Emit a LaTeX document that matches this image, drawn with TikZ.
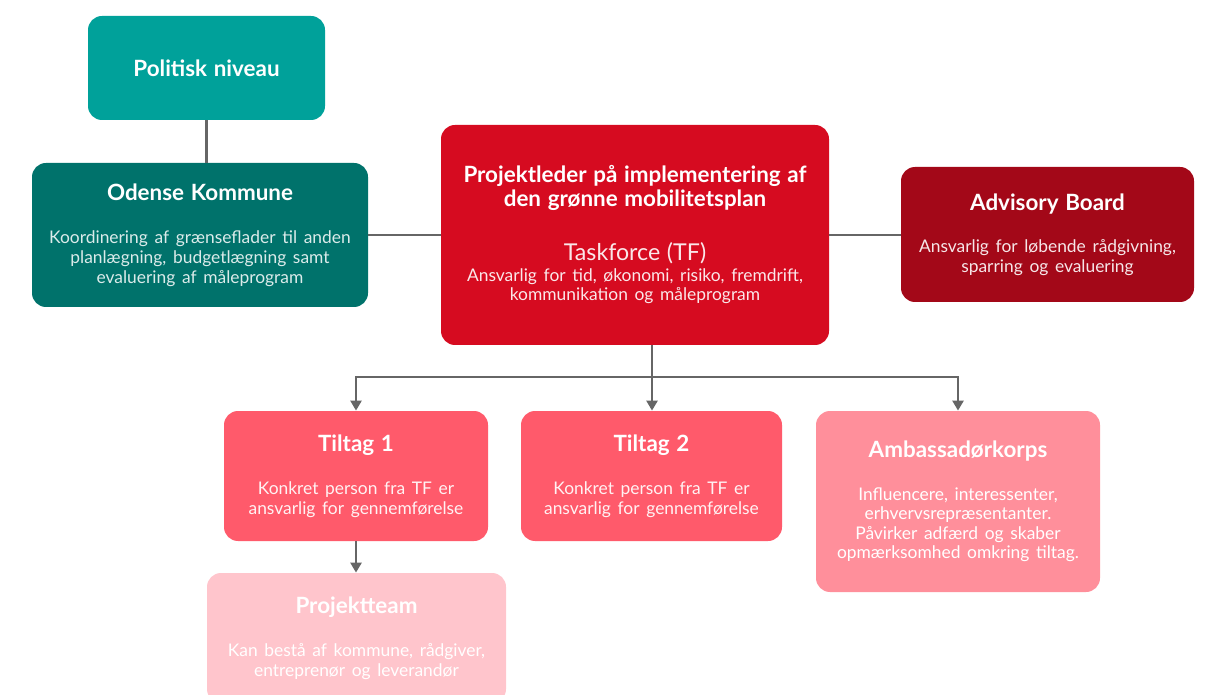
\documentclass[tikz,border=0pt]{standalone}
\usepackage{fontspec}
\setmainfont{Lato}
\usetikzlibrary{arrows.meta}
\definecolor{tealA}{HTML}{00A19A}
\definecolor{tealB}{HTML}{00726B}
\definecolor{redA}{HTML}{D60B20}
\definecolor{redB}{HTML}{A30818}
\definecolor{coral}{HTML}{FF5A6B}
\definecolor{pinkA}{HTML}{FF8F9B}
\definecolor{pinkB}{HTML}{FFC5CC}
\definecolor{connC}{HTML}{666666}
\newcommand{\boxtitle}[1]{{\fontsize{11.2}{11.6}\selectfont\bfseries #1\par}}
\newcommand{\boxbody}[2][white]{{\color{#1}\fontsize{8.7}{9.8}\selectfont #2\par}}

\begin{document}
\begin{tikzpicture}[x=0.5pt,y=-0.5pt,
  box/.style={rounded corners=7pt,inner sep=0pt,align=center,text=white},
  conn/.style={draw=connC,line width=1.4pt},
  arr/.style={conn,-{Triangle[width=5.5pt,length=5pt]}}]
\useasboundingbox (0,0) rectangle (1205,695);
\clip (0,0) rectangle (1205,695);
\node[box,fill=tealA,minimum width=118.5pt,minimum height=52pt,text width=116pt] (pol) at (206.5,68) {\boxtitle{Politisk niveau}};
\node[box,fill=tealB,minimum width=168pt,minimum height=72pt,text width=166pt] (ode) at (200,235) {\boxtitle{Odense Kommune}\vspace{12pt}\boxbody[white!86!tealB]{Koordinering af grænseflader til anden\\planlægning, budgetlægning samt\\evaluering af måleprogram}};
\node[box,fill=redA,minimum width=194pt,minimum height=110pt,text width=192pt] (cen) at (635,235) {\boxtitle{Projektleder på implementering af\\den grønne mobilitetsplan}\vspace{14pt}{\color{white!90!redA}\fontsize{11.6}{13}\selectfont Taskforce (TF)\par}\vspace{0.8pt}\boxbody[white!90!redA]{Ansvarlig for tid, økonomi, risiko, fremdrift,\\kommunikation og måleprogram}};
\node[box,fill=redB,minimum width=146.5pt,minimum height=67.5pt,text width=144pt] (adv) at (1047.5,234.5) {\boxtitle{Advisory Board}\vspace{11.5pt}\boxbody[white!90!redB]{Ansvarlig for løbende rådgivning,\\sparring og evaluering}};
\node[box,fill=coral,minimum width=132pt,minimum height=65pt,text width=130pt] (t1) at (356,476) {\boxtitle{Tiltag 1}\vspace{12pt}\boxbody[white!92!coral]{Konkret person fra TF er\\ansvarlig for gennemførelse}};
\node[box,fill=coral,minimum width=130.5pt,minimum height=65pt,text width=128pt] (t2) at (651.5,476) {\boxtitle{Tiltag 2}\vspace{12pt}\boxbody[white!92!coral]{Konkret person fra TF er\\ansvarlig for gennemførelse}};
\node[box,fill=pinkA,minimum width=142pt,minimum height=90.5pt,text width=140pt] (amb) at (958,501.5) {\boxtitle{Ambassadørkorps}\vspace{11.5pt}\boxbody{Influencere, interessenter,\\erhvervsrepræsentanter.\\Påvirker adfærd og skaber\\opmærksomhed omkring tiltag.}};
\node[box,fill=pinkB,minimum width=149.5pt,minimum height=65pt,text width=147pt] (pt) at (356.5,638) {\boxtitle{Projektteam}\vspace{12pt}\boxbody{Kan bestå af kommune, rådgiver,\\entreprenør og leverandør}};
\coordinate (split) at (652,377);
\draw[conn] (pol.south) -- (pol.south |- ode.north);
\draw[conn] (ode.east) -- (ode.east -| cen.west);
\draw[conn] (cen.east) -- (cen.east -| adv.west);
\draw[arr] (split |- cen.south) -- (split |- t2.north);
\draw[arr] (split) -| (t1.north);
\draw[arr] (split) -| (amb.north);
\draw[arr] (t1.south) -- (t1.south |- pt.north);
\end{tikzpicture}
\end{document}
